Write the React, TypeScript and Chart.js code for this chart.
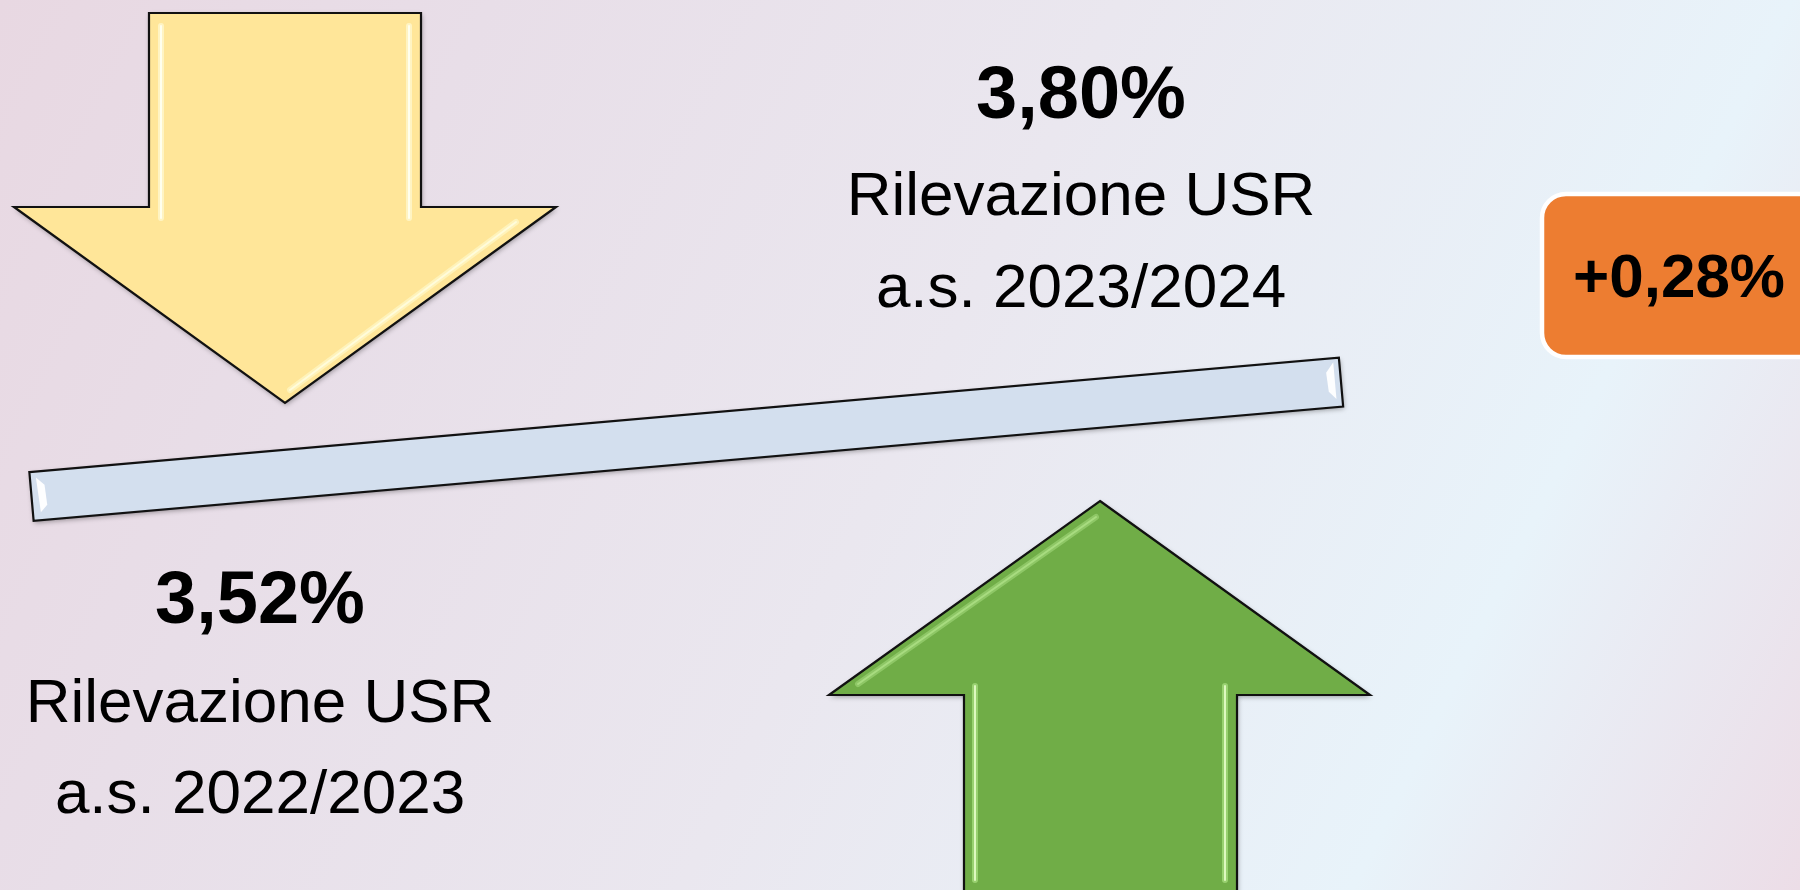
import React, { useEffect, useRef } from "react";
import { Chart, registerables } from "chart.js";

Chart.register(...registerables);

// ---- data ----
const years: string[] = ["a.s. 2022/2023", "a.s. 2023/2024"];
const rates: number[] = [3.52, 3.8];
const seriesLabel = "Rilevazione USR";

const FONT = '"Liberation Sans", Arial, Helvetica, sans-serif';
const fmt = (v: number) => v.toFixed(2).replace(".", ",") + "%";
const fmtDelta = (v: number) => (v >= 0 ? "+" : "-") + Math.abs(v).toFixed(2).replace(".", ",") + "%";

// ---- layout (styles only) ----
const W = 1800;
const H = 890;
const BAR_HALF = 24.5;
const LEFT_TEXT_X = 260;
const RIGHT_TEXT_X = 1081;

function poly(ctx: CanvasRenderingContext2D, pts: number[][]) {
  ctx.beginPath();
  ctx.moveTo(pts[0][0], pts[0][1]);
  for (let i = 1; i < pts.length; i++) ctx.lineTo(pts[i][0], pts[i][1]);
  ctx.closePath();
}

function glow(ctx: CanvasRenderingContext2D, pts: number[][], color: string, core: string) {
  ctx.save();
  ctx.lineCap = "round";
  ctx.strokeStyle = color;
  ctx.lineWidth = 6;
  ctx.beginPath();
  ctx.moveTo(pts[0][0], pts[0][1]);
  ctx.lineTo(pts[1][0], pts[1][1]);
  ctx.stroke();
  ctx.strokeStyle = core;
  ctx.lineWidth = 2;
  ctx.beginPath();
  ctx.moveTo(pts[0][0], pts[0][1]);
  ctx.lineTo(pts[1][0], pts[1][1]);
  ctx.stroke();
  ctx.restore();
}

function shape(ctx: CanvasRenderingContext2D, pts: number[][], fill: string | CanvasGradient) {
  ctx.save();
  ctx.shadowColor = "rgba(0,0,0,0.35)";
  ctx.shadowBlur = 5;
  ctx.shadowOffsetX = 1;
  ctx.shadowOffsetY = 2;
  poly(ctx, pts);
  ctx.fillStyle = fill;
  ctx.fill();
  ctx.restore();
}

function outline(ctx: CanvasRenderingContext2D, pts: number[][]) {
  ctx.save();
  poly(ctx, pts);
  ctx.strokeStyle = "#111";
  ctx.lineWidth = 2.2;
  ctx.lineJoin = "miter";
  ctx.stroke();
  ctx.restore();
}

const seesawPlugin = {
  id: "seesaw",
  beforeDraw(chart: any) {
    const ctx: CanvasRenderingContext2D = chart.ctx;
    const g = ctx.createLinearGradient(0, 0, W, H);
    g.addColorStop(0, "#e8d8e2");
    g.addColorStop(0.22, "#e8dee8");
    g.addColorStop(0.5, "#eae7ef");
    g.addColorStop(0.8, "#e8f3fa");
    g.addColorStop(1, "#ecdde7");
    ctx.save();
    ctx.fillStyle = g;
    ctx.fillRect(0, 0, W, H);
    ctx.restore();
  },
  afterDatasetsDraw(chart: any) {
    const ctx: CanvasRenderingContext2D = chart.ctx;
    const meta = chart.getDatasetMeta(0);
    const p0 = meta.data[0];
    const p1 = meta.data[meta.data.length - 1];

    // yellow down arrow
    const yellow = [
      [149, 13], [421, 13], [421, 207], [556, 207], [285, 403], [14, 207], [149, 207],
    ];
    shape(ctx, yellow, "#ffe699");
    glow(ctx, [[161, 26], [161, 218]], "rgba(255,248,205,0.8)", "rgba(255,255,240,0.95)");
    glow(ctx, [[409, 26], [409, 218]], "rgba(255,248,205,0.8)", "rgba(255,255,240,0.95)");
    glow(ctx, [[516, 222], [290, 390]], "rgba(255,248,200,0.7)", "rgba(255,253,225,0.85)");
    outline(ctx, yellow);

    // green up arrow
    const green = [
      [1100, 501], [1370, 695], [1237, 695], [1237, 905], [964, 905], [964, 695], [829, 695],
    ];
    shape(ctx, green, "#70ad47");
    glow(ctx, [[1096, 517], [858, 684]], "rgba(150,205,110,0.8)", "rgba(175,225,135,0.8)");
    glow(ctx, [[975, 686], [975, 880]], "rgba(160,215,120,0.85)", "rgba(225,250,195,0.95)");
    glow(ctx, [[1225, 686], [1225, 880]], "rgba(160,215,120,0.85)", "rgba(225,250,195,0.95)");
    outline(ctx, green);

    // seesaw bar between the two data points
    const dx = p1.x - p0.x;
    const dy = p1.y - p0.y;
    const len = Math.hypot(dx, dy);
    const ux = dx / len;
    const uy = dy / len;
    const nx = -uy * BAR_HALF;
    const ny = ux * BAR_HALF;
    const bar = [
      [p0.x - nx, p0.y - ny],
      [p1.x - nx, p1.y - ny],
      [p1.x + nx, p1.y + ny],
      [p0.x + nx, p0.y + ny],
    ];
    shape(ctx, bar, "#d3dfee");
    // end bevel highlights
    ctx.save();
    ctx.fillStyle = "rgba(255,255,255,0.95)";
    poly(ctx, [
      [p0.x + 6 * ux - (BAR_HALF - 6) * -uy, p0.y + 6 * uy - (BAR_HALF - 6) * ux],
      [p0.x + 14 * ux - (BAR_HALF - 14) * -uy, p0.y + 14 * uy - (BAR_HALF - 14) * ux],
      [p0.x + 15 * ux + (BAR_HALF - 15) * -uy, p0.y + 15 * uy + (BAR_HALF - 15) * ux],
      [p0.x + 8 * ux + (BAR_HALF - 8) * -uy, p0.y + 8 * uy + (BAR_HALF - 8) * ux],
    ]);
    ctx.fill();
    poly(ctx, [
      [p1.x - 6 * ux - (BAR_HALF - 4) * -uy, p1.y - 6 * uy - (BAR_HALF - 4) * ux],
      [p1.x - 14 * ux - (BAR_HALF - 14) * -uy, p1.y - 14 * uy - (BAR_HALF - 14) * ux],
      [p1.x - 13 * ux + (BAR_HALF - 16) * -uy, p1.y - 13 * uy + (BAR_HALF - 16) * ux],
      [p1.x - 6 * ux + (BAR_HALF - 8) * -uy, p1.y - 6 * uy + (BAR_HALF - 8) * ux],
    ]);
    ctx.fill();
    ctx.restore();
    outline(ctx, bar);

    // texts
    ctx.save();
    ctx.fillStyle = "#000";
    ctx.textAlign = "center";
    ctx.textBaseline = "alphabetic";
    const blocks = [
      { x: LEFT_TEXT_X, y: [623, 722, 813], i: 0 },
      { x: RIGHT_TEXT_X, y: [118, 215, 307], i: 1 },
    ];
    for (const b of blocks) {
      ctx.font = `bold 74px ${FONT}`;
      ctx.fillText(fmt(rates[b.i]), b.x, b.y[0]);
      ctx.font = `62px ${FONT}`;
      ctx.fillText(seriesLabel, b.x, b.y[1]);
      ctx.fillText(years[b.i], b.x, b.y[2]);
    }
    ctx.restore();

    // difference box
    ctx.save();
    ctx.beginPath();
    (ctx as any).roundRect(1542, 194, 290, 163, 24);
    ctx.fillStyle = "#ed7d31";
    ctx.fill();
    ctx.strokeStyle = "#ffffff";
    ctx.lineWidth = 4.5;
    ctx.stroke();
    ctx.fillStyle = "#000";
    ctx.textAlign = "center";
    ctx.font = `bold 62px ${FONT}`;
    ctx.fillText(fmtDelta(rates[rates.length - 1] - rates[0]), 1679, 297);
    ctx.restore();
  },
};

export default function App() {
  const ref = useRef<HTMLCanvasElement>(null);

  useEffect(() => {
    document.body.style.margin = "0";
    const canvas = ref.current;
    if (!canvas) return;
    const chart = new Chart(canvas, {
      type: "line",
      data: {
        labels: years,
        datasets: [
          {
            label: seriesLabel,
            data: rates,
            borderWidth: 0,
            borderColor: "rgba(0,0,0,0)",
            pointRadius: 0,
            pointHoverRadius: 0,
          },
        ],
      },
      options: {
        responsive: false,
        animation: false,
        events: [],
        layout: { padding: { left: 31.5, right: 459, top: 96, bottom: 181 } },
        scales: {
          x: { type: "category", display: false, offset: false },
          y: { type: "linear", display: false, min: 3.0, max: 4.5 },
        },
        plugins: {
          legend: { display: false },
          tooltip: { enabled: false },
          title: { display: false },
        },
      },
      plugins: [seesawPlugin],
    });
    return () => chart.destroy();
  }, []);

  return (
    <div style={{ position: "fixed", left: 0, top: 0, width: W, height: H, overflow: "hidden" }}>
      <canvas ref={ref} width={W} height={H} style={{ display: "block", width: W, height: H }} />
    </div>
  );
}
